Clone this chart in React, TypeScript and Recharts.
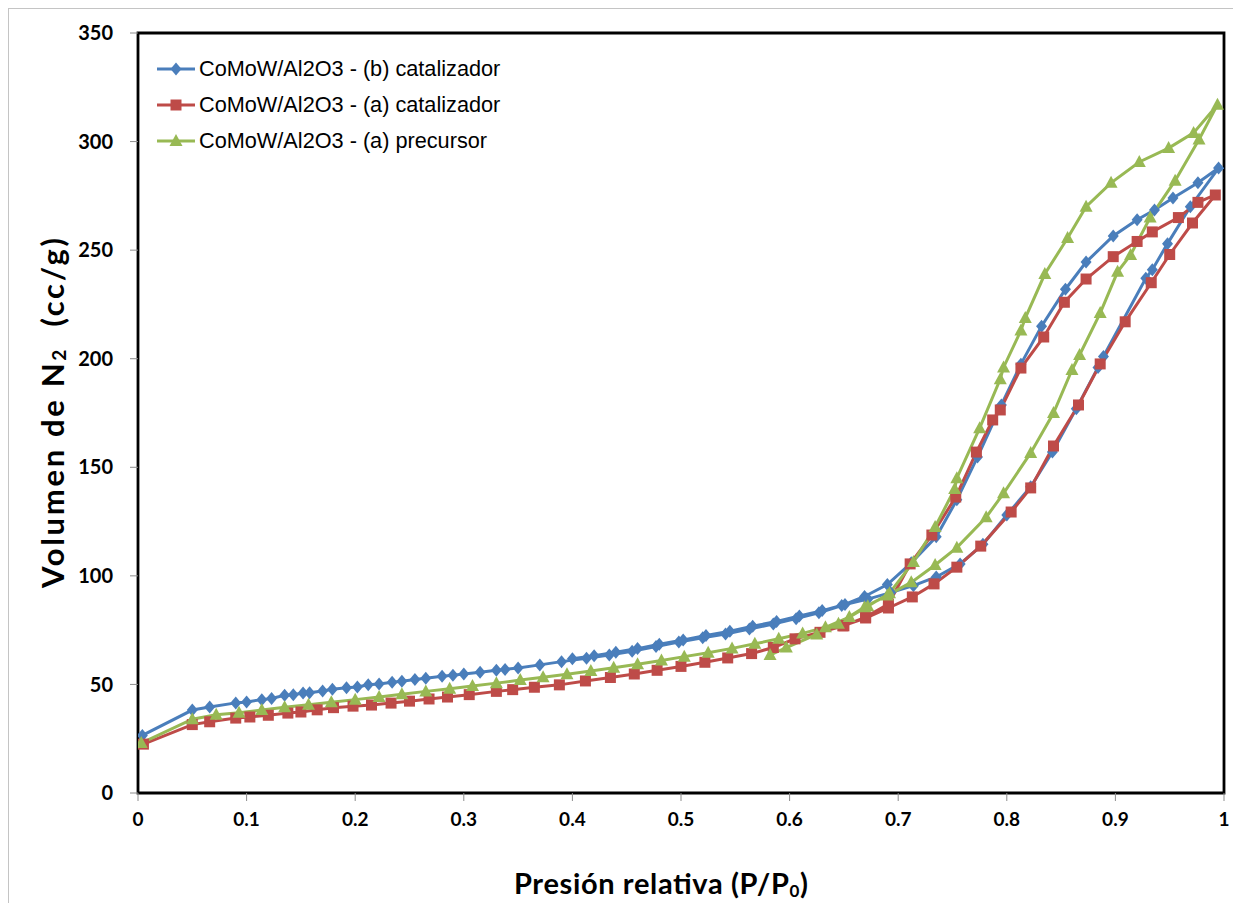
import React from 'react';
import { LineChart, Line, XAxis, YAxis, ReferenceArea, Label } from 'recharts';

// ---- Data (relative pressure P/P0, adsorbed volume cc/g) ----
const seriesNames = [
  'CoMoW/Al2O3 - (b) catalizador',
  'CoMoW/Al2O3 - (a) catalizador',
  'CoMoW/Al2O3 - (a) precursor',
];

const blueAdsP = [0.004, 0.05, 0.066, 0.09, 0.1, 0.114, 0.123, 0.135, 0.143, 0.152, 0.158, 0.17, 0.179, 0.192, 0.202, 0.212, 0.222, 0.234, 0.243, 0.255, 0.265, 0.28, 0.29, 0.3, 0.315, 0.33, 0.338, 0.35, 0.37, 0.39, 0.413, 0.434, 0.455, 0.477, 0.498, 0.52, 0.541, 0.563, 0.585, 0.606, 0.627, 0.648, 0.669, 0.69, 0.712, 0.735, 0.754, 0.773, 0.795, 0.813, 0.832, 0.854, 0.873, 0.898, 0.92, 0.936, 0.953, 0.976, 0.995];
const blueAdsV = [26.5, 38.2, 39.6, 41.5, 41.9, 43, 43.5, 45, 45.2, 46, 46.2, 47, 47.8, 48.5, 48.8, 49.8, 50.2, 51, 51.5, 52.3, 52.8, 53.8, 54.2, 54.8, 55.6, 56.5, 56.9, 57.6, 59, 60.5, 62, 63.6, 65.3, 67.5, 69.5, 71.5, 73.2, 75.5, 77.8, 80.3, 83, 86.3, 90.5, 96, 106, 118, 135, 154.7, 178.7, 197.5, 215, 232, 244.5, 256.5, 264, 268.5, 274, 281, 287.8];
const blueDesP = [0.969, 0.948, 0.934, 0.928, 0.889, 0.884, 0.864, 0.842, 0.822, 0.8, 0.778, 0.757, 0.735, 0.714, 0.693, 0.672, 0.651, 0.63, 0.609, 0.588, 0.566, 0.545, 0.523, 0.502, 0.48, 0.46, 0.44, 0.42, 0.4];
const blueDesV = [270, 253, 241, 237, 201, 196, 177, 157, 141, 128, 114.5, 105.5, 99.5, 95.5, 92.3, 89.3, 86.8, 84, 81.5, 79, 76.8, 74.5, 72.5, 70.5, 68.5, 66.5, 64.8, 63.2, 61.8];

const redAdsP = [0.005, 0.05, 0.066, 0.09, 0.103, 0.12, 0.138, 0.15, 0.165, 0.18, 0.198, 0.215, 0.233, 0.25, 0.268, 0.285, 0.305, 0.33, 0.345, 0.365, 0.388, 0.412, 0.435, 0.457, 0.478, 0.5, 0.522, 0.543, 0.565, 0.585, 0.605, 0.628, 0.65, 0.67, 0.691, 0.711, 0.731, 0.753, 0.772, 0.787, 0.794, 0.813, 0.834, 0.853, 0.873, 0.898, 0.92, 0.934, 0.958, 0.976, 0.992];
const redAdsV = [22.5, 31.5, 32.8, 34.5, 35, 35.8, 36.8, 37.3, 38.3, 39.3, 40, 40.5, 41.4, 42.3, 43.3, 44.2, 45.3, 46.8, 47.6, 48.7, 49.8, 51.6, 53.2, 54.8, 56.5, 58.3, 60.2, 62.2, 64.2, 67, 71, 74, 77, 81, 87, 105.5, 118.8, 136.3, 157, 171.8, 176.4, 195.7, 210, 226, 236.7, 247, 254, 258.4, 265, 272, 275.4];
const redDesP = [0.971, 0.95, 0.933, 0.909, 0.886, 0.866, 0.843, 0.822, 0.804, 0.776, 0.754, 0.733, 0.713, 0.691, 0.67, 0.649];
const redDesV = [262.5, 248, 235, 217, 197.6, 178.7, 159.8, 140.5, 129.4, 113.7, 104, 96.3, 90.3, 85.2, 80.6, 77];

const greenAdsP = [0.003, 0.05, 0.072, 0.093, 0.114, 0.135, 0.157, 0.178, 0.2, 0.222, 0.243, 0.265, 0.287, 0.308, 0.33, 0.352, 0.373, 0.395, 0.417, 0.438, 0.46, 0.482, 0.503, 0.525, 0.547, 0.568, 0.59, 0.612, 0.633, 0.655, 0.672, 0.692, 0.714, 0.734, 0.752, 0.754, 0.775, 0.794, 0.797, 0.813, 0.817, 0.835, 0.856, 0.873, 0.896, 0.922, 0.949, 0.972, 0.994];
const greenAdsV = [23, 34, 36, 37, 38.2, 39.5, 40.6, 41.8, 43, 44.2, 45.5, 46.8, 48, 49.3, 50.6, 52, 53.3, 54.7, 56.2, 57.7, 59.3, 61, 62.8, 64.6, 66.6, 68.7, 71, 73.5, 76.3, 81, 86, 92, 106.4, 122.5, 140, 145, 168, 190.6, 196, 213, 218.7, 239, 255.6, 270, 281, 290.6, 297, 304, 317];
const greenDesP = [0.977, 0.955, 0.932, 0.914, 0.902, 0.886, 0.867, 0.86, 0.843, 0.822, 0.797, 0.781, 0.754, 0.734, 0.712, 0.69, 0.669, 0.645, 0.625, 0.597, 0.582];
const greenDesV = [301, 282, 265, 247.8, 240, 221, 201.7, 194.8, 175, 156.6, 138, 127, 113, 105, 97, 91, 85.6, 78, 73, 67, 63.5];

const xTicks = [0, 0.1, 0.2, 0.3, 0.4, 0.5, 0.6, 0.7, 0.8, 0.9, 1];
const yTicks = [0, 50, 100, 150, 200, 250, 300, 350];

const toPoints = (p: number[], v: number[]) => p.map((x, i) => ({ p: x, v: v[i] }));
const blueData = [...toPoints(blueAdsP, blueAdsV), ...toPoints(blueDesP, blueDesV)];
const redData = [...toPoints(redAdsP, redAdsV), ...toPoints(redDesP, redDesV)];
const greenData = [...toPoints(greenAdsP, greenAdsV), ...toPoints(greenDesP, greenDesV)];

const BLUE = '#4A7EBB';
const RED = '#BE4B48';
const GREEN = '#98B954';

const axisFont = 'Lato, "Open Sans", "DejaVu Sans", sans-serif';

const markerPath = (kind: string, cx: number, cy: number) => {
  if (kind === 'diamond') return `M${cx},${cy - 6.5}L${cx + 5.5},${cy}L${cx},${cy + 6.5}L${cx - 5.5},${cy}Z`;
  if (kind === 'square') return `M${cx - 5.5},${cy - 5.5}h11v11h-11Z`;
  return `M${cx},${cy - 7}L${cx + 6.5},${cy + 5}L${cx - 6.5},${cy + 5}Z`;
};

const makeDot = (kind: string, color: string) => (props: any) => {
  const { cx, cy, index } = props;
  if (cx == null || cy == null) return <g key={`${kind}-${index}`} />;
  return <path key={`${kind}-${index}`} d={markerPath(kind, cx, cy)} fill={color} stroke="none" />;
};

const legendItems = [
  { name: seriesNames[0], color: BLUE, kind: 'diamond' },
  { name: seriesNames[1], color: RED, kind: 'square' },
  { name: seriesNames[2], color: GREEN, kind: 'triangle' },
];

const LegendBox = () => (
  <div
    style={{
      position: 'absolute',
      left: 148,
      top: 42,
      fontFamily: '"Liberation Sans", Arial, sans-serif',
      fontSize: 21.7,
      color: '#000',
    }}
  >
    {legendItems.map((it) => (
      <div key={it.name} style={{ display: 'flex', alignItems: 'center', height: 36 }}>
        <svg width={40} height={20} style={{ display: 'block' }}>
          <line x1={0} y1={10} x2={38} y2={10} stroke={it.color} strokeWidth={3} />
          <path d={markerPath(it.kind, 19, 10)} fill={it.color} />
        </svg>
        <span style={{ marginLeft: 2, whiteSpace: 'nowrap', lineHeight: '36px' }}>{it.name}</span>
      </div>
    ))}
  </div>
);

const YTitle = () => (
  <text
    x={43}
    y={404}
    transform="rotate(-90 43 404)"
    textAnchor="middle"
    dominantBaseline="central"
    textLength={350}
    lengthAdjust="spacing"
    style={{ fontFamily: axisFont, fontWeight: 700, fontSize: 31, fill: '#000', whiteSpace: 'pre' }}
  >
    Volumen de N<tspan fontSize={19} dy={6}>2</tspan>
    <tspan dy={-6}>{'  (cc/g)'}</tspan>
  </text>
);

const XTitle = () => (
  <text
    x={652}
    y={885}
    textAnchor="middle"
    textLength={294}
    lengthAdjust="spacing"
    style={{ fontFamily: axisFont, fontWeight: 700, fontSize: 29, fill: '#000' }}
  >
    Presión relativa (P/P<tspan fontSize={17} dy={3}>0</tspan>
    <tspan dy={-3}>)</tspan>
  </text>
);

const fmtX = (v: number) => (v === 0 ? '0' : v === 1 ? '1' : v.toFixed(1));

export default function App() {
  return (
    <div style={{ width: 1240, height: 900, border: '1px solid #c4c4c4', boxSizing: 'border-box', position: 'relative', background: '#fff' }}>
      <LineChart
        width={1225}
        height={894}
        margin={{ top: 24, right: 10, left: 0, bottom: 0 }}
        style={{ position: 'absolute', left: 0, top: 0 }}
      >
        <XAxis
          type="number"
          dataKey="p"
          domain={[0, 1]}
          ticks={xTicks}
          tickFormatter={fmtX}
          allowDataOverflow
          height={110}
          tickSize={8}
          tickMargin={12}
          axisLine={{ stroke: '#000', strokeWidth: 2 }}
          tickLine={{ stroke: '#8c8c8c', strokeWidth: 1 }}
          tick={{ fill: '#000', fontFamily: axisFont, fontWeight: 700, fontSize: 19 }}
        >
          <Label content={<XTitle />} />
        </XAxis>
        <YAxis
          type="number"
          dataKey="v"
          domain={[0, 350]}
          ticks={yTicks}
          allowDataOverflow
          width={129}
          tickSize={8}
          tickMargin={17}
          axisLine={{ stroke: '#000', strokeWidth: 2 }}
          tickLine={{ stroke: '#8c8c8c', strokeWidth: 1 }}
          tick={{ fill: '#000', fontFamily: axisFont, fontWeight: 700, fontSize: 20 }}
        >
          <Label content={<YTitle />} />
        </YAxis>
        <ReferenceArea x1={0} x2={1} y1={0} y2={350} fill="none" stroke="#000" strokeWidth={2.8} ifOverflow="visible" />
        <Line
          data={blueData}
          dataKey="v"
          name={seriesNames[0]}
          stroke={BLUE}
          strokeWidth={3}
          dot={makeDot('diamond', BLUE)}
          activeDot={false}
          isAnimationActive={false}
          legendType="none"
        />
        <Line
          data={redData}
          dataKey="v"
          name={seriesNames[1]}
          stroke={RED}
          strokeWidth={3}
          dot={makeDot('square', RED)}
          activeDot={false}
          isAnimationActive={false}
          legendType="none"
        />
        <Line
          data={greenData}
          dataKey="v"
          name={seriesNames[2]}
          stroke={GREEN}
          strokeWidth={3}
          dot={makeDot('triangle', GREEN)}
          activeDot={false}
          isAnimationActive={false}
          legendType="none"
        />
      </LineChart>
      <LegendBox />
    </div>
  );
}
